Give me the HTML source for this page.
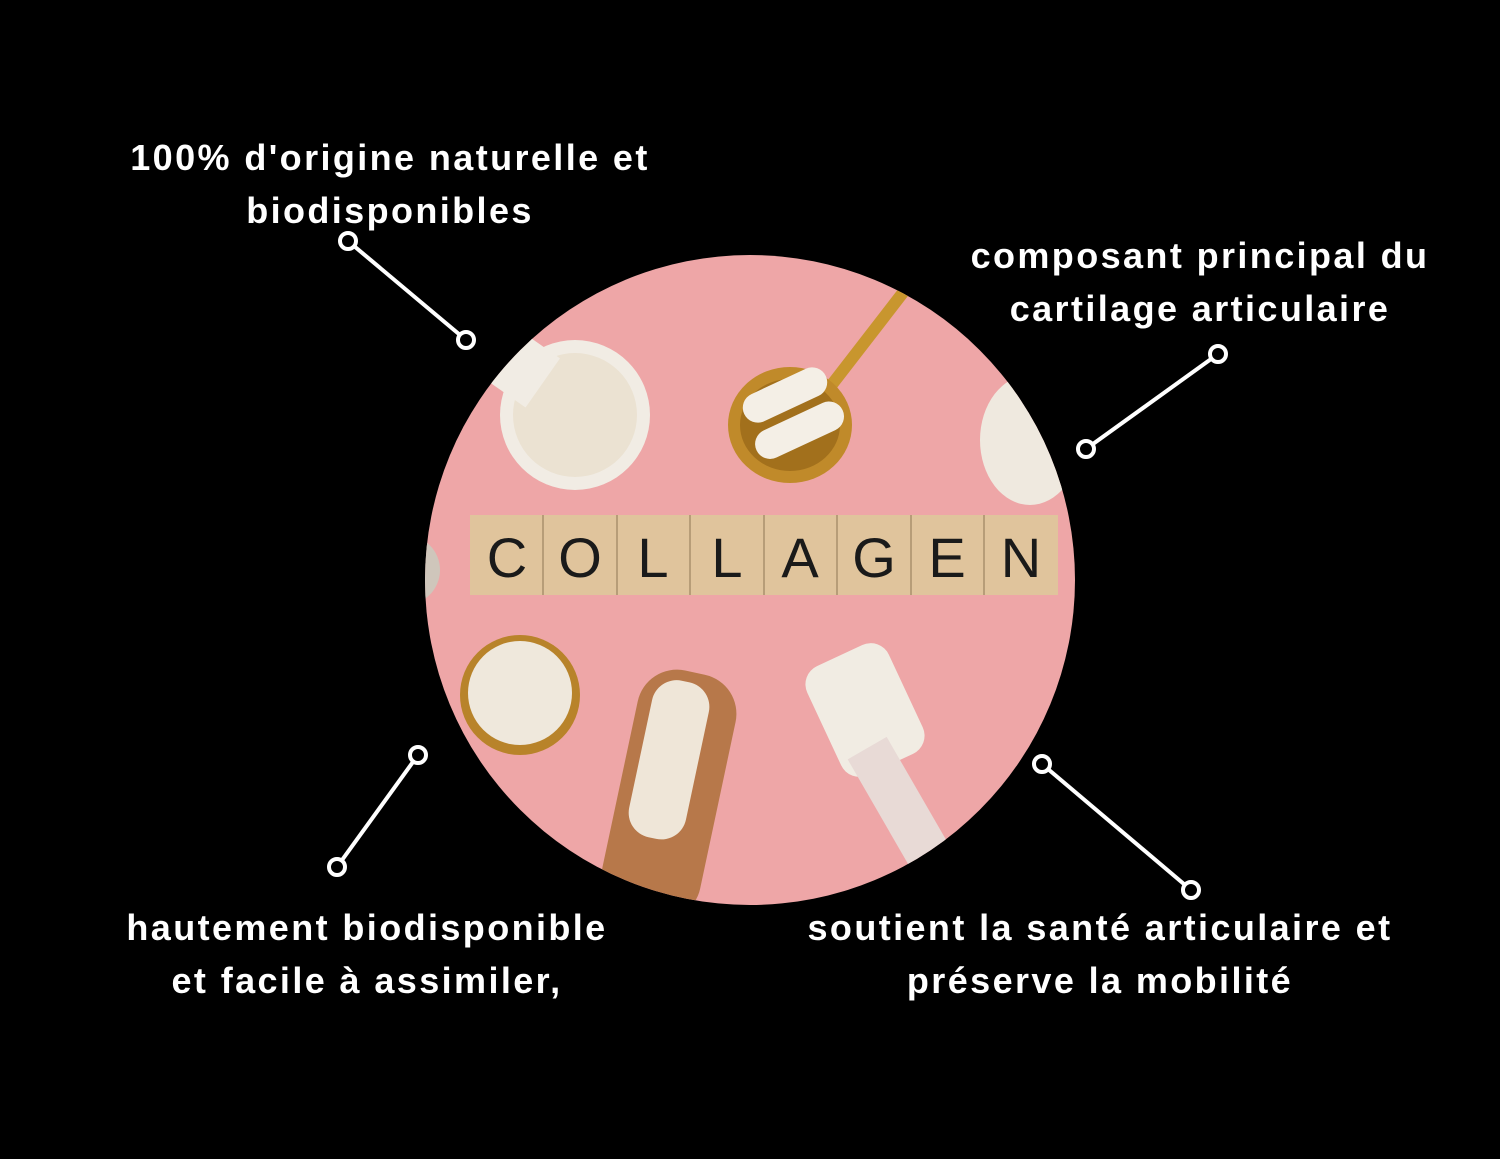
<!DOCTYPE html>
<html><head><meta charset="utf-8"><style>
body{margin:0;background:#000;width:1500px;height:1159px;overflow:hidden;position:relative;font-family:"Liberation Sans",sans-serif;}
.t{position:absolute;color:#fff;font-weight:bold;font-size:36px;letter-spacing:2.4px;line-height:53px;text-align:center;white-space:nowrap;}
</style></head><body>
<svg width="1500" height="1159" style="position:absolute;left:0;top:0">
<defs><clipPath id="c"><circle cx="750" cy="580" r="325"/></clipPath></defs>
<g clip-path="url(#c)">
<rect x="400" y="250" width="700" height="700" fill="#eea6a7"/>
<ellipse cx="575" cy="415" rx="75" ry="75" fill="#f1ece4"/>
<ellipse cx="575" cy="415" rx="62" ry="62" fill="#ebe2d2"/>
<rect x="470" y="330" width="80" height="60" fill="#f1ece4" transform="rotate(35 510 360)"/>
<line x1="820" y1="400" x2="905" y2="290" stroke="#c8962e" stroke-width="12"/>
<ellipse cx="790" cy="425" rx="62" ry="58" fill="#c08a2a"/>
<ellipse cx="790" cy="425" rx="50" ry="46" fill="#a2701c"/>
<rect x="740" y="380" width="90" height="30" rx="15" fill="#f4efe6" transform="rotate(-25 785 395)"/>
<rect x="752" y="415" width="95" height="30" rx="15" fill="#f4efe6" transform="rotate(-25 800 430)"/>
<ellipse cx="1030" cy="440" rx="50" ry="65" fill="#efe9df"/>
<circle cx="405" cy="570" r="35" fill="#cfc6bb"/>
<ellipse cx="520" cy="695" rx="60" ry="60" fill="#b8832a"/>
<ellipse cx="520" cy="693" rx="52" ry="52" fill="#efe8dc"/>
<rect x="620" y="670" width="100" height="250" rx="40" fill="#b7784a" transform="rotate(12 670 790)"/>
<rect x="640" y="680" width="58" height="160" rx="25" fill="#efe6d8" transform="rotate(12 670 760)"/>
<rect x="820" y="650" width="90" height="120" rx="20" fill="#f1ece3" transform="rotate(-25 865 710)"/>
<rect x="880" y="740" width="45" height="140" fill="#e8dad6" transform="rotate(-30 900 810)"/>
<g font-family="Liberation Sans,sans-serif" font-size="56" fill="#1a1a1a" text-anchor="middle">
<rect x="470" y="515" width="588" height="80" fill="#e0c49c"/>
<g stroke="#b79d78" stroke-width="2">
<line x1="543" y1="515" x2="543" y2="595"/><line x1="617" y1="515" x2="617" y2="595"/><line x1="690" y1="515" x2="690" y2="595"/><line x1="764" y1="515" x2="764" y2="595"/><line x1="837" y1="515" x2="837" y2="595"/><line x1="911" y1="515" x2="911" y2="595"/><line x1="984" y1="515" x2="984" y2="595"/></g>
<text x="507" y="577">C</text><text x="580" y="577">O</text><text x="653" y="577">L</text><text x="727" y="577">L</text><text x="800" y="577">A</text><text x="874" y="577">G</text><text x="947" y="577">E</text><text x="1021" y="577">N</text>
</g>
</g>
<g stroke="#fff" stroke-width="4" fill="#000">
<line x1="348" y1="241" x2="466" y2="340"/><line x1="1218" y1="354" x2="1086" y2="449"/>
<line x1="418" y1="755" x2="337" y2="867"/><line x1="1042" y1="764" x2="1191" y2="890"/>
<circle cx="348" cy="241" r="8"/><circle cx="466" cy="340" r="8"/><circle cx="1218" cy="354" r="8"/><circle cx="1086" cy="449" r="8"/>
<circle cx="418" cy="755" r="8"/><circle cx="337" cy="867" r="8"/><circle cx="1042" cy="764" r="8"/><circle cx="1191" cy="890" r="8"/>
</g>
</svg>
<div class="t" style="left:90px;top:131px;width:600px">100% d'origine naturelle et<br>biodisponibles</div>
<div class="t" style="left:900px;top:229px;width:600px">composant principal du<br>cartilage articulaire</div>
<div class="t" style="left:67px;top:901px;width:600px">hautement biodisponible<br>et facile à assimiler,</div>
<div class="t" style="left:750px;top:901px;width:700px">soutient la santé articulaire et<br>préserve la mobilité</div>
</body></html>
